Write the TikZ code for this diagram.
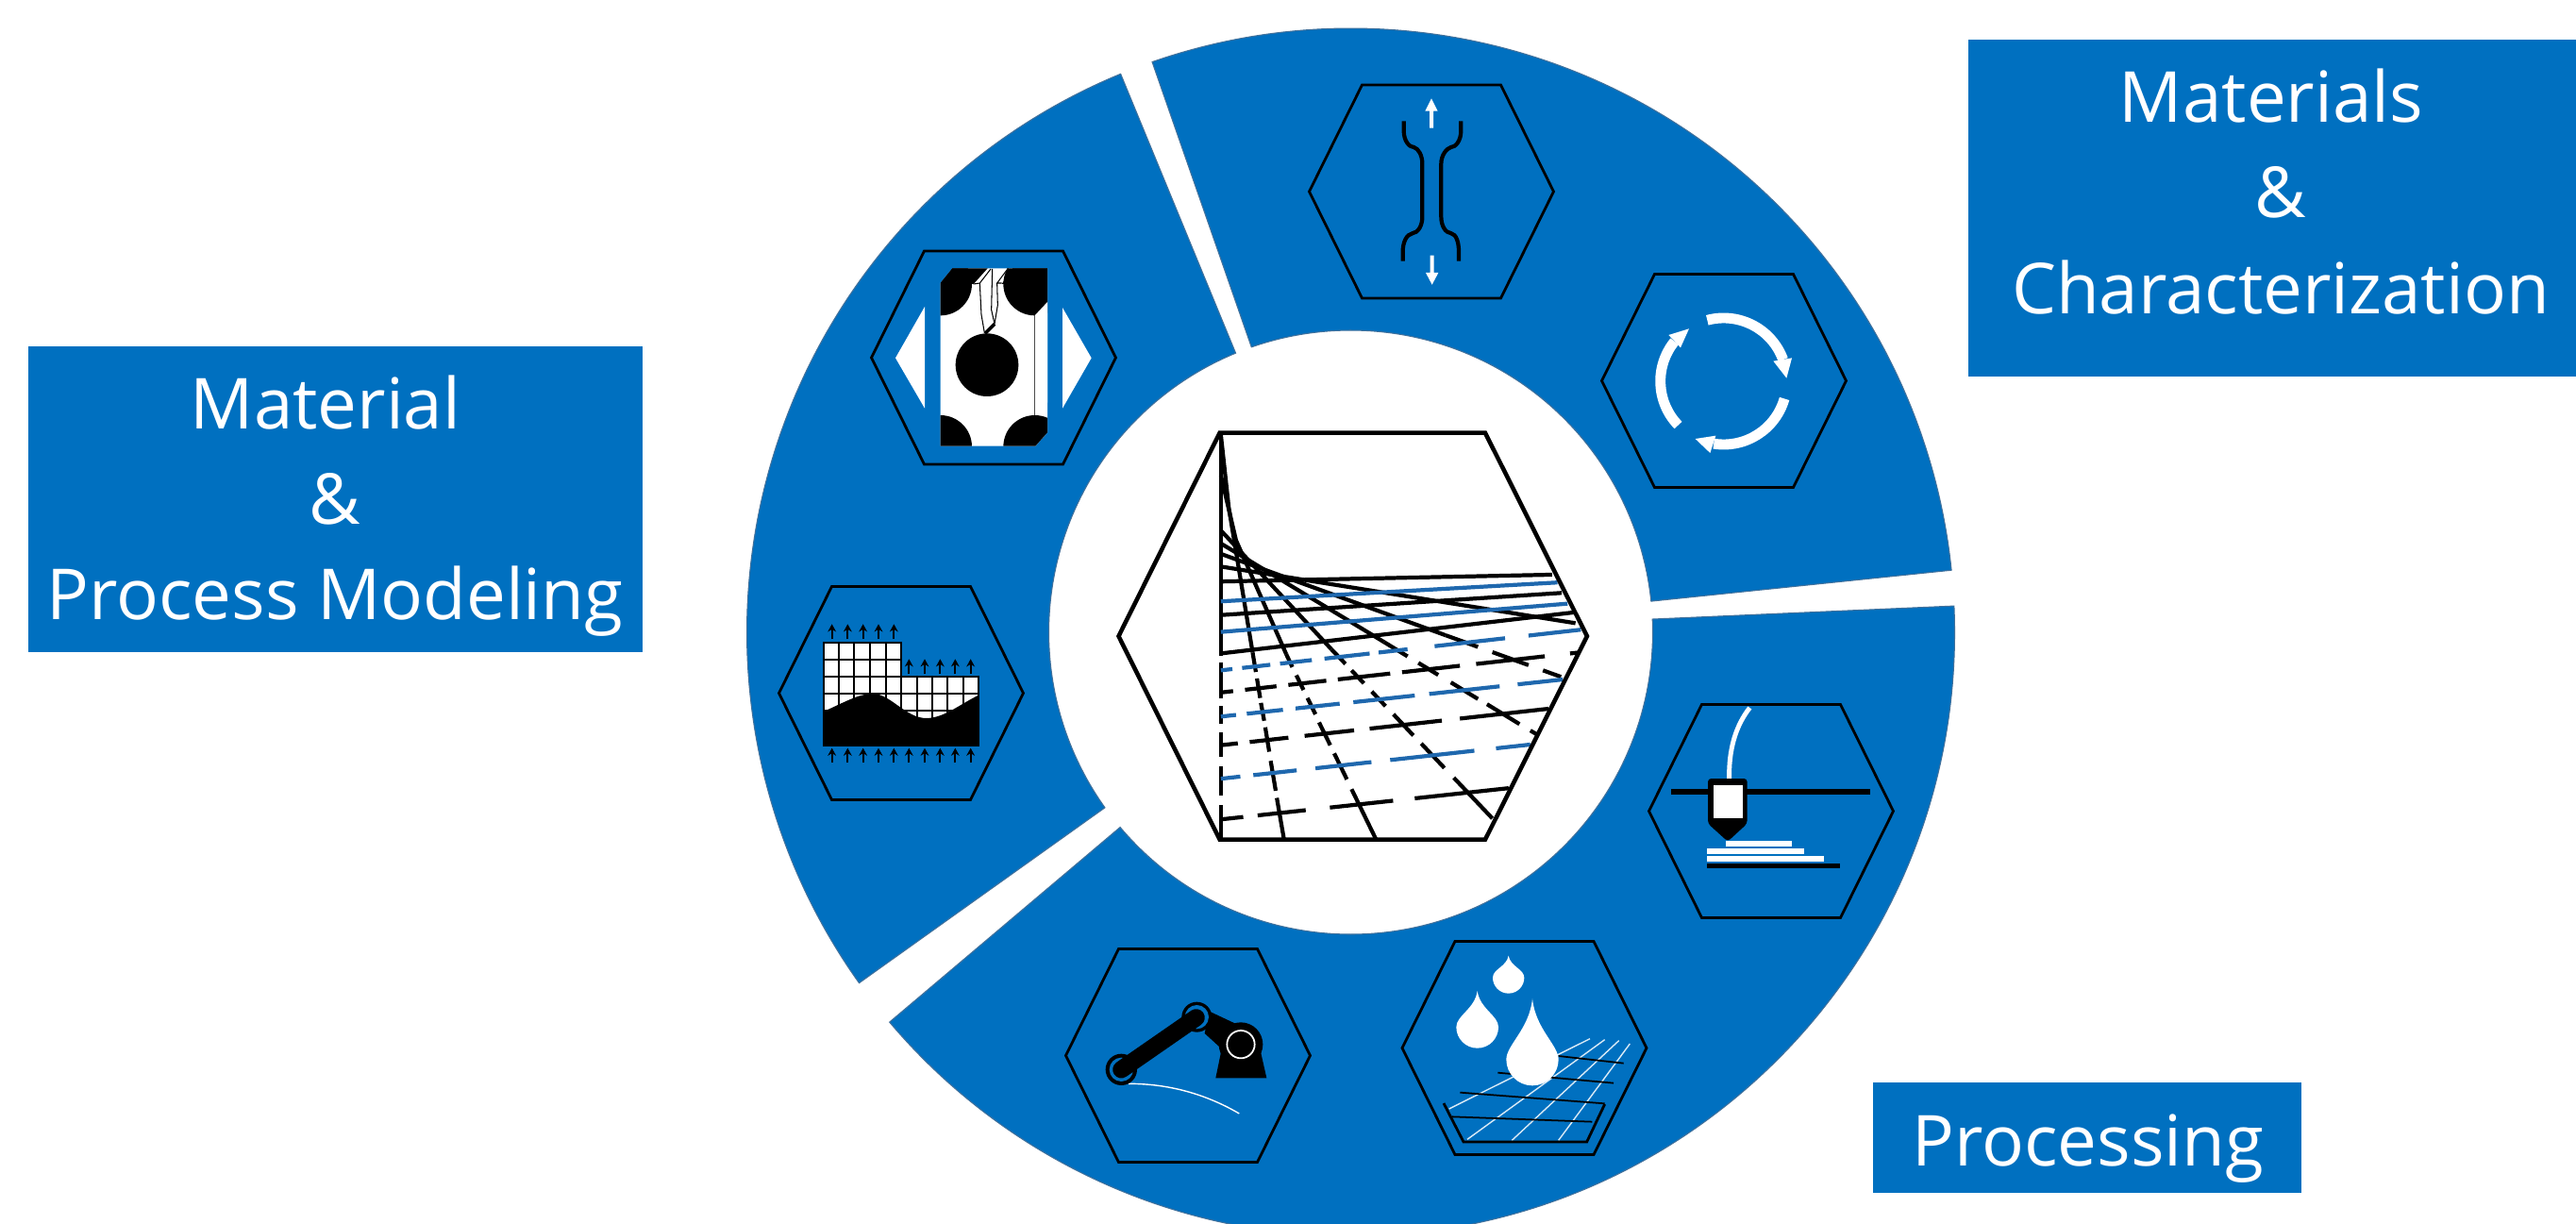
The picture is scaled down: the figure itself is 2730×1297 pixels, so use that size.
\documentclass[tikz,border=0pt]{standalone}
\usepackage{fontspec}
\setmainfont{Open Sans}
\usepackage{xcolor}
\usetikzlibrary{arrows.meta}
\definecolor{ringblue}{HTML}{0070C0}
\definecolor{ringedge}{HTML}{41719C}
\definecolor{meshblue}{HTML}{1F68AE}
\tikzset{
  sector/.style={fill=ringblue, draw=ringedge, line width=0.3pt},
  labelbox/.style={rectangle, fill=ringblue, inner sep=0pt, outer sep=0pt},
  labeltext/.style={text=white, align=center, inner sep=0pt, font=\fontsize{21.2}{28.8}\selectfont},
  hexline/.style={draw=black, line width=0.8pt, line join=miter},
  meshline/.style={line width=1.2pt},
  uparr/.style={-{Stealth[length=2.3pt,width=2.5pt]}, line width=0.5pt},
}
% straight mesh line cut into dashes, the list holds x ranges
\newcommand{\meshdash}[6]{%
  \foreach \xa/\xb in {#6}{%
    \pgfmathsetmacro\ya{#3+(\xa-#2)/(#4-#2)*(#5-#3)}%
    \pgfmathsetmacro\yb{#3+(\xb-#2)/(#4-#2)*(#5-#3)}%
    \draw[meshline,#1] (\xa,\ya) -- (\xb,\yb);
  }%
}
\newcommand{\waterdrop}[4]{%
  \fill[white] (#1,#4) .. controls ({#1+0.12*#3},{#4+0.5*(#2-#4)}) and ({#1+#3},{#2-0.55*#3}) .. ({#1+#3},#2)
    arc (0:180:#3) .. controls ({#1-#3},{#2-0.55*#3}) and ({#1-0.12*#3},{#4+0.5*(#2-#4)}) .. (#1,#4) -- cycle;
}
\begin{document}
\begin{tikzpicture}[x=0.01cm,y=-0.01cm]
  \clip[use as bounding box] (0,0) rectangle (2730,1297);
  % ring sectors
  \begin{scope}[shift={(1431.5,670)}]
    \draw[sector] (-109.2:640) arc (-109.2:-5.9:640) -- (-5.9:320) arc (-5.9:-109.2:320) -- cycle;
    \draw[sector] (-2.5:640) arc (-2.5:139.8:640) -- (139.8:320) arc (139.8:-2.5:320) -- cycle;
    \draw[sector] (144.5:640) arc (144.5:247.6:640) -- (247.6:320) arc (247.6:144.5:320) -- cycle;
  \end{scope}
  % label boxes
  \node[labelbox, minimum width=6.62cm, minimum height=3.57cm] (matBox) at (2417,220.5) {};
  \node[labeltext] (matText) at (2417,203) {Materials\hspace*{0.2cm}\\\&\hspace*{0.2cm}\\Characterization};
  \node[labelbox, minimum width=6.51cm, minimum height=3.24cm] (modelBox) at (355.5,529) {};
  \node[labeltext] (modelText) at (355,536) {Material\hspace*{0.2cm}\\\&\hspace*{0.2cm}\\Process Modeling};
  \node[labelbox, minimum width=4.54cm, minimum height=1.17cm] (procBox) at (2212,1205.5) {};
  \node[labeltext] (procText) at (2213,1217) {Processing};
  % hexagon frames
  \foreach \cx/\cy in {1517/203,1827/403.5,1877/859.5,1615.5/1110.5,1259/1118.5,955/734.5,1053/379}
    \draw[hexline,shift={(\cx,\cy)}] (-129.5,0) -- (-73.5,-113) -- (73.5,-113) -- (129.5,0) -- (73.5,113) -- (-73.5,113) -- cycle;

  % tensile specimen
  \begin{scope}[shift={(1370,70)},scale=1/3]
    \draw[line width=1.2pt] (353,175) -- (353,205) .. controls (353,240) and (372,258) .. (385,258)
      .. controls (400,262) and (412,285) .. (412,310) -- (412,480) .. controls (412,505) and (400,530) .. (380,532)
      .. controls (362,535) and (350,560) .. (350,590) -- (350,620);
    \draw[line width=1.2pt] (535,175) -- (535,205) .. controls (535,240) and (516,258) .. (503,258)
      .. controls (488,262) and (472,285) .. (472,310) -- (472,480) .. controls (472,505) and (484,530) .. (504,532)
      .. controls (520,535) and (528,560) .. (528,590) -- (528,620);
    \fill[white] (435,197) -- (435,143) -- (421,143) -- (441,103) -- (461,143) -- (447,143) -- (447,197) -- cycle;
    \fill[white] (437,602) -- (437,657) -- (423,657) -- (443,695) -- (463,657) -- (449,657) -- (449,602) -- cycle;
  \end{scope}

  % cycle arrows
  \begin{scope}[shift={(1680,270)},scale=1/3]
    \draw[white, line width=3.1pt] (440,402) ++(-105:201) arc (-105:-20:201);
    \fill[white] (640,392) -- (598,338) -- (657,328) -- cycle;
    \draw[white, line width=3.1pt] (440,402) ++(16:201) arc (16:99:201);
    \fill[white] (350,585) -- (415,575) -- (397,630) -- cycle;
    \draw[white, line width=3.1pt] (440,402) ++(136:201) arc (136:219:201);
    \fill[white] (330,235) -- (265,255) -- (303,295) -- cycle;
  \end{scope}

  % print head
  \begin{scope}[shift={(1730,730)},scale=1/3]
    \draw[white, line width=1.4pt] (308,290) .. controls (305,190) and (330,115) .. (373,60);
    \fill (123,318) rectangle (755,337);
    \fill[rounded corners=1pt] (240,285) -- (365,285) -- (365,428) -- (303,485) -- (240,428) -- cycle;
    \fill[white] (258,305) rectangle (350,412);
    \fill[white] (296,484) rectangle (507,501);
    \fill[white] (238,508) rectangle (547,526);
    \fill[white] (238,532) rectangle (610,549);
    \fill (238,554) rectangle (660,571);
  \end{scope}

  % droplets over fibre grid
  \begin{scope}[shift={(1470,980)},scale=1/3]
    \draw[white!85!ringblue, line width=0.4pt] (197,585) -- (645,362) (255,682) -- (692,365)
      (397,685) -- (737,368) (545,685) -- (772,378);
    \draw[line width=0.5pt] (232,533) -- (692,568) (207,610) -- (652,626) (352,470) -- (720,503) (545,417) -- (752,440);
    \draw[line width=0.8pt] (180,567) -- (243,690) -- (635,690) -- (692,570);
    \waterdrop{386}{168}{50}{98}
    \waterdrop{287}{325}{67}{210}
    \waterdrop{462}{428}{83}{235}
  \end{scope}

  % robot arm
  \begin{scope}[shift={(1100,980)},scale=1/3]
    \draw[white, line width=0.4pt] (288,505) .. controls (400,505) and (520,530) .. (640,600);
    \fill (565,487) -- (727,487) -- (705,390) -- (585,390) -- cycle;
    \fill (545,275) -- (630,315) -- (585,395) -- (530,345) -- cycle;
    \fill (645,380) circle (70);
    \draw[white, line width=0.5pt] (645,380) circle (44);
    \fill (505,293) circle (48);
    \fill[ringblue] (505,293) circle (38);
    \fill (265,460) circle (50);
    \fill[ringblue] (265,460) circle (38);
    \draw[line width=5.2pt, line cap=round] (265,460) -- (503,295);
  \end{scope}

  % mesh cells with black wavy part
  \begin{scope}[shift={(800,600)},scale=1/3]
    \fill[white] (218,244) -- (466,244) -- (466,350) -- (711,350) -- (711,570) -- (218,570) -- cycle;
    \foreach \gx in {267,316,365,416}
      \draw[line width=0.5pt] (\gx,244) -- (\gx,570);
    \foreach \gx in {466,515,564,613,662}
      \draw[line width=0.5pt] (\gx,350) -- (\gx,570);
    \draw[line width=0.5pt] (218,297) -- (466,297) (218,350) -- (711,350) (218,405) -- (711,405) (218,460) -- (711,460);
    \fill (218,462) .. controls (280,435) and (330,405) .. (375,405) .. controls (430,405) and (480,483) .. (545,483)
      .. controls (600,483) and (650,440) .. (711,410) -- (711,570) -- (218,570) -- cycle;
    \draw[line width=0.5pt] (218,244) -- (466,244) -- (466,350) -- (711,350) -- (711,570) -- (218,570) -- cycle;
    \foreach \ax in {245,295,344,393,442}
      \draw[uparr] (\ax,232) -- (\ax,184);
    \foreach \ax in {490,540,589,637,686}
      \draw[uparr] (\ax,343) -- (\ax,295);
    \foreach \ax in {245,295,344,393,442,490,540,589,637,686}
      \draw[uparr] (\ax,625) -- (\ax,578);
  \end{scope}

  % fibre specimen with crack
  \begin{scope}[shift={(880,240)},scale=1/3]
    \fill[white] (207,418) -- (300,255) -- (300,578) -- cycle;
    \fill[white] (830,418) -- (738,258) -- (738,578) -- cycle;
    \fill[white] (388,133) -- (690,133) -- (690,655) -- (652,698) -- (350,698) -- (350,180) -- cycle;
    \begin{scope}
      \clip (388,133) -- (690,133) -- (690,655) -- (652,698) -- (350,698) -- (350,180) -- cycle;
      \fill (350,183) circle (100);
      \fill (650,183) circle (100);
      \fill (350,700) circle (100);
      \fill (650,700) circle (100);
      \fill (350,133) rectangle (450,183);
      \fill (450,133) -- (500,133) -- (455,183) -- (450,183) -- cycle;
      \fill (580,133) -- (690,133) -- (690,183) -- (545,183) -- cycle;
    \end{scope}
    \fill (498,440) circle (100);
    \fill[white] (650,283) -- (690,240) -- (690,560) -- (650,600) -- cycle;
    \draw[black!70, line width=0.3pt] (650,283) -- (650,600);
    \draw[line width=0.3pt] (455,183) -- (475,180) -- (510,135) (475,180) -- (480,280) -- (490,338);
    \draw[line width=0.3pt] (515,135) -- (512,265) -- (522,310);
    \draw[line width=0.3pt] (545,180) -- (530,180) -- (565,133) (530,180) -- (532,250) -- (522,310);
    \draw[line width=1pt] (522,310) -- (492,340);
  \end{scope}

  % central hexagon with stretched mesh
  \begin{scope}[shift={(1130,400)},xscale=1/2.613,yscale=1/2.9]
    \draw[meshline] (428,170) -- (428,855);
    \draw[meshline] (428,875) -- (428,985) (428,1010) -- (428,1065) (428,1090) -- (428,1165) (428,1195) -- (428,1285) (428,1315) -- (428,1420);
    % lines running from the left edge
    \draw[meshline] (428,175) -- (450,400) -- (516,845);
    \draw[meshline] (428,300) -- (470,500) -- (609,850);
    \draw[meshline] (428,470) -- (734,835);
    \draw[meshline] (428,510) -- (880,813);
    \draw[meshline] (428,542) -- (1050,792);
    \draw[meshline] (428,581) -- (1410,755);
    \draw[meshline] (525,905) -- (516,845) (528,925) -- (537,985) (539,1000) -- (548,1055) (551,1075) -- (562,1150) (566,1178) -- (580,1270) (583,1292) -- (603,1420);
    \draw[meshline] (626,890) -- (609,850) (637,915) -- (657,960) (668,985) -- (690,1035) (700,1060) -- (731,1130) (742,1155) -- (777,1235) (790,1265) -- (858,1420);
    \draw[meshline] (773,880) -- (734,835) (790,900) -- (824,940) (846,965) -- (884,1010) (906,1035) -- (961,1100) (983,1125) -- (1047,1200) (1073,1230) -- (1180,1355);
    \draw[meshline] (945,857) -- (880,813) (975,877) -- (1030,914) (1065,937) -- (1140,988) (1165,1004) -- (1255,1065) (1285,1085) -- (1305,1098);
    \draw[meshline] (1140,828) -- (1050,792) (1180,844) -- (1280,884) (1320,900) -- (1370,920);
    % lines running across
    \draw[meshline] (428,627) -- (1345,606);
    \draw[meshline, meshblue] (428,688) -- (1360,630);
    \draw[meshline] (428,730) -- (1372,662);
    \draw[meshline, meshblue] (428,782) -- (1388,695);
    \draw[meshline] (428,848) -- (1405,722);
    \meshdash{meshblue}{428}{900}{1425}{775}{428/460,487/565,592/680,715/840,865/945,1020/1215,1280/1425}
    \meshdash{black}{428}{968}{1420}{845}{428/462,495/582,615/720,752/897,930/1090,1135/1325,1395/1420}
    \meshdash{meshblue}{428}{1042}{1375}{928}{428/470,500/600,635/757,795/965,1005/1200,1250/1375}
    \meshdash{black}{428}{1130}{1335}{1018}{428/475,508/615,660/797,840/1040,1090/1335}
    \meshdash{meshblue}{428}{1233}{1285}{1128}{428/482,518/638,690/845,897/1130,1190/1285}
    \meshdash{black}{428}{1358}{1225}{1262}{428/490,530/663,730/905,965/1225}
    % outline
    \draw[line width=1.3pt] (425,170) -- (1160,170) -- (1442,795) -- (1160,1420) -- (425,1420) -- (145,795) -- cycle;
  \end{scope}
\end{tikzpicture}
\end{document}
